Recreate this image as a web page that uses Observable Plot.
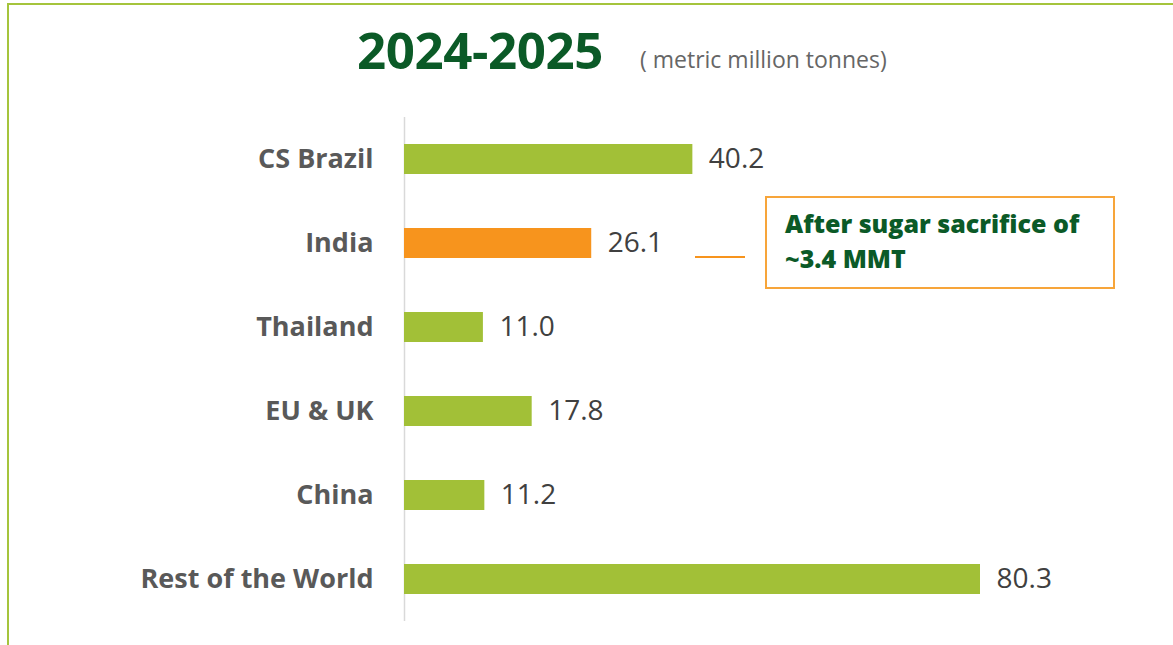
<!DOCTYPE html>
<html>
<head>
<meta charset="utf-8">
<script src="https://cdn.jsdelivr.net/npm/d3@7"></script>
<script src="https://cdn.jsdelivr.net/npm/@observablehq/plot@0.6"></script>
<style>
  html, body { margin: 0; padding: 0; background: #fff; width: 1173px; height: 645px; overflow: hidden; }
  #wrap { position: relative; width: 1173px; height: 645px; }
  #frame { position: absolute; left: 7px; top: 3px; width: 1200px; height: 700px; border-left: 2px solid #a5c43c; border-top: 2px solid #a5c43c; box-sizing: border-box; }
  #title { position: absolute; left: 357px; top: 24px; font-family: "Open Sans", sans-serif; font-weight: 700; font-size: 51px; color: #0b5a27; line-height: 1; letter-spacing: -0.4px; }
  #subtitle { position: absolute; left: 640px; top: 48px; font-family: "Open Sans", sans-serif; font-size: 23px; color: #666; line-height: 1; }
  #chart { position: absolute; left: 0; top: 0; }
  #note { position: absolute; left: 765px; top: 196px; width: 350px; height: 93px; border: 2px solid #f7a53a; box-sizing: border-box; padding: 8px 0 0 18px; font-family: "Open Sans", sans-serif; font-weight: 800; font-size: 25px; line-height: 35px; color: #0b5a27; }
  #conn { position: absolute; left: 695px; top: 256px; width: 50px; height: 1.5px; background: #f7941d; }
</style>
</head>
<body>
<div id="wrap">
  <div id="frame"></div>
  <div id="chart"></div>
  <div id="title">2024-2025</div>
  <div id="subtitle">( metric million tonnes)</div>
  <div id="conn"></div>
  <div id="note">After sugar sacrifice of<br>~3.4 MMT</div>
</div>
<script>
const regions = ["CS Brazil", "India", "Thailand", "EU & UK", "China", "Rest of the World"];
const production = [40.2, 26.1, 11.0, 17.8, 11.2, 80.3];
const highlight = ["India"];

const data = regions.map((r, i) => ({region: r, value: production[i], hi: highlight.includes(r)}));

const chart = Plot.plot({
  width: 1173,
  height: 645,
  marginLeft: 404,
  marginRight: 193,
  marginTop: 117,
  marginBottom: 24,
  style: {background: "transparent", fontFamily: "Open Sans, sans-serif"},
  x: {domain: [0, 80.3], axis: null},
  y: {domain: regions, paddingInner: 0.643, paddingOuter: 0.3215, label: null},
  marks: [
    Plot.ruleX([0], {stroke: "#d9d9d9", strokeWidth: 1.5}),
    Plot.barX(data, {x: "value", y: "region", fill: d => d.hi ? "#f7941d" : "#a2c037"}),
    Plot.text(data, {x: "value", y: "region", text: d => d.value.toFixed(1), textAnchor: "start", dx: 16, fontSize: 28, fontFamily: "'Liberation Sans Narrow', 'Open Sans', sans-serif", fill: "#404040"}),
    Plot.axisY({tickSize: 0, tickPadding: 31, fontSize: 27, fontWeight: 700, fill: "#595959", label: null})
  ]
});
document.getElementById("chart").appendChild(chart);
</script>
</body>
</html>
